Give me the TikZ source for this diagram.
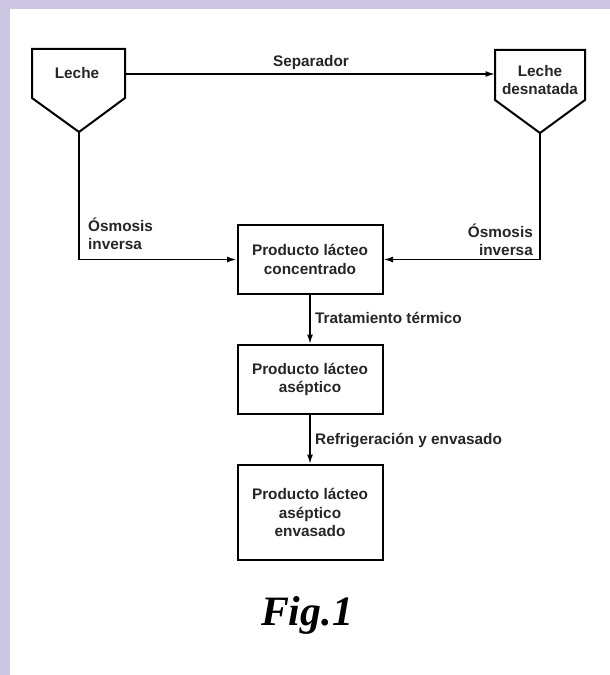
\documentclass[tikz,border=0pt]{standalone}
\usepackage{fontspec}
\setmainfont{Liberation Sans}
\newfontfamily\figfont{Liberation Serif}
\usetikzlibrary{arrows.meta}
\definecolor{lav}{RGB}{205,198,226}
\begin{document}
\begin{tikzpicture}[x=1bp,y=-1bp,
  lbl/.style={font=\fontsize{15.4}{18.5}\selectfont\bfseries, text=black!85, inner sep=0pt, align=center},
  procbox/.style={draw, line width=2bp, minimum width=145bp, inner sep=0pt, lbl},
  shapeline/.style={line width=2bp, line join=miter},
  conn/.style={line width=1.6bp, -{Latex[length=9.5bp,width=6bp]}}]
\useasboundingbox (0,0) rectangle (610,675);
\fill[lav] (0,0) rectangle (610,675);
\fill[white] (10,9) rectangle (610,675);
% tanks
\draw[shapeline] (32,49) -- (125,49) -- (125,98) -- (79,132) -- (32,98) -- cycle;
\draw[shapeline] (495,50) -- (585,50) -- (585,100) -- (540,133) -- (495,100) -- cycle;
\coordinate (lecheR) at (125,74);
\coordinate (lecheTip) at (79,132);
\coordinate (desnL) at (495,74);
\coordinate (desnTip) at (540,133);
\node[lbl] (leche) at (77,73) {Leche};
\node[lbl] (desn) at (540,80) {Leche\\desnatada};
% boxes
\node[procbox, minimum height=69bp] (b1) at (310,259.5) {Producto lácteo\\concentrado};
\node[procbox, minimum height=69bp] (b2) at (310,379.5) {Producto lácteo\\aséptico};
\node[procbox, minimum height=95bp] (b3) at (310,512.5) {Producto lácteo\\aséptico\\envasado};
% connectors
\draw[conn] (lecheR) -- (desnL);
\node[lbl] (sep) at (311,63) {Separador};
\draw[conn] (lecheTip) |- (b1.west);
\draw[conn] (desnTip) |- (b1.east);
\node[lbl, align=left, anchor=west] (osmL) at (88,234) {Ósmosis\\inversa};
\node[lbl, align=right, anchor=east] (osmR) at (533,240) {Ósmosis\\inversa};
\draw[conn] (b1.south) -- (b2.north);
\node[lbl, anchor=west] (trat) at (315,318) {Tratamiento térmico};
\draw[conn] (b2.south) -- (b3.north);
\node[lbl, anchor=west] (refr) at (315,440) {Refrigeración y envasado};
\node[font=\figfont\fontsize{42}{42}\selectfont\bfseries\itshape, inner sep=0pt, anchor=base] (fig) at (307,625) {Fig.1};
\end{tikzpicture}
\end{document}
